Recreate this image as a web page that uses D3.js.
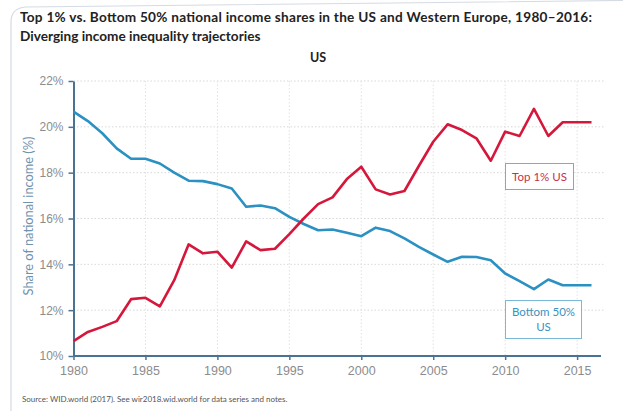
<!DOCTYPE html>
<html>
<head>
<meta charset="utf-8">
<script src="https://cdn.jsdelivr.net/npm/d3@7"></script>
<style>
  html, body { margin: 0; padding: 0; background: #fff; }
  svg { display: block; font-family: Lato, "Open Sans", sans-serif; }
</style>
</head>
<body>
<svg id="chart" width="623" height="411"></svg>
<script>
const years = d3.range(1980, 2017);
const top1US = [10.65, 11.05, 11.27, 11.52, 12.48, 12.54, 12.17, 13.31, 14.87, 14.48,
                14.55, 13.86, 15.0, 14.62, 14.68, 15.32, 16.0, 16.63, 16.92, 17.72,
                18.26, 17.27, 17.05, 17.2, 18.29, 19.35, 20.11, 19.86, 19.5, 18.52,
                19.79, 19.6, 20.78, 19.6, 20.2, 20.2, 20.2];
const bottom50US = [20.66, 20.25, 19.72, 19.06, 18.61, 18.61, 18.4, 18.0, 17.65, 17.63,
                    17.5, 17.31, 16.51, 16.57, 16.45, 16.07, 15.76, 15.49, 15.52, 15.38,
                    15.23, 15.6, 15.45, 15.13, 14.76, 14.43, 14.11, 14.33, 14.32, 14.18,
                    13.6, 13.27, 12.92, 13.34, 13.09, 13.09, 13.09];
const yTicks = [10, 12, 14, 16, 18, 20, 22];
const xTicks = [1980, 1985, 1990, 1995, 2000, 2005, 2010, 2015];
const titleLines = ["Top 1% vs. Bottom 50% national income shares in the US and Western Europe, 1980–2016:",
                    "Diverging income inequality trajectories"];
const subtitle = "US";
const yTitle = "Share of national income (%)";
const sourceText = "Source:  WID.world (2017). See wir2018.wid.world for data series and notes.";

const svg = d3.select("#chart");
const red = "#d5173c", blue = "#2b90c2", axisCol = "#4a7393";

// frame
svg.append("path")
  .attr("d", "M11,411 L11,22 Q11,8 26,7 L623,0.5")
  .attr("fill", "none").attr("stroke", "#d4dbe3").attr("stroke-width", 1.2);

const x = d3.scaleLinear().domain([1980, 2016]).range([73.5, 591.5]);
const y = d3.scaleLinear().domain([10, 22]).range([356, 81]);

// gridlines
svg.append("g").selectAll("line").data(yTicks.slice(1)).join("line")
  .attr("x1", 73.5).attr("x2", 604).attr("y1", d => y(d)).attr("y2", d => y(d))
  .attr("stroke", "#d8d8d8").attr("stroke-dasharray", "1.5,2");
svg.append("g").selectAll("line").data(xTicks.slice(1)).join("line")
  .attr("x1", d => x(d)).attr("x2", d => x(d)).attr("y1", 81).attr("y2", 356)
  .attr("stroke", "#e2e2e2").attr("stroke-dasharray", "1.5,2");

// axes
const xAxis = svg.append("g").attr("transform", "translate(0,356)")
  .call(d3.axisBottom(x).tickValues(xTicks).tickFormat(d3.format("d")).tickSize(4).tickPadding(6).tickSizeOuter(0));
xAxis.select(".domain").remove();
xAxis.append("line").attr("x1", 73.5).attr("x2", 601).attr("stroke", axisCol).attr("stroke-width", 2);
xAxis.selectAll(".tick line").attr("stroke", axisCol).attr("stroke-width", 1.5);
xAxis.selectAll(".tick text").attr("fill", "#8c8c8c").attr("font-size", 12.5).attr("font-weight", 300);

const yAxis = svg.append("g").attr("transform", "translate(73.5,0)")
  .call(d3.axisLeft(y).tickValues(yTicks).tickFormat(d => d + "%").tickSize(5).tickPadding(5).tickSizeOuter(0));
yAxis.select(".domain").attr("stroke", axisCol).attr("stroke-width", 2);
yAxis.selectAll(".tick line").attr("stroke", axisCol).attr("stroke-width", 1.5);
yAxis.selectAll(".tick text").attr("fill", "#8c8c8c").attr("font-size", 12).attr("font-weight", 300);

// lines
const line = d3.line().x((d, i) => x(years[i])).y(d => y(d));
svg.append("path").datum(bottom50US).attr("d", line)
  .attr("fill", "none").attr("stroke", blue).attr("stroke-width", 2.6).attr("stroke-linejoin", "round");
svg.append("path").datum(top1US).attr("d", line)
  .attr("fill", "none").attr("stroke", red).attr("stroke-width", 2.6).attr("stroke-linejoin", "round");

// labels
svg.append("rect").attr("x", 505.5).attr("y", 163.5).attr("width", 68).attr("height", 26)
  .attr("fill", "#fff").attr("stroke", "#e08494").attr("stroke-width", 1);
svg.append("text").attr("x", 539.5).attr("y", 180.5).attr("text-anchor", "middle")
  .attr("fill", "#c8304c").attr("font-size", 11.5).text("Top 1% US");
svg.append("rect").attr("x", 505.5).attr("y", 300.5).attr("width", 76).attr("height", 38)
  .attr("fill", "#fff").attr("stroke", "#7ab8d8").attr("stroke-width", 1);
svg.append("text").attr("x", 543.5).attr("y", 316).attr("text-anchor", "middle")
  .attr("fill", "#3a93c0").attr("font-size", 11.5).text("Bottom 50%");
svg.append("text").attr("x", 543.5).attr("y", 331).attr("text-anchor", "middle")
  .attr("fill", "#3a93c0").attr("font-size", 11.5).text("US");

// titles
svg.append("g").selectAll("text").data(titleLines).join("text")
  .attr("x", 20).attr("y", (d, i) => 22 + i * 18.5)
  .attr("font-size", 13.6).attr("font-weight", 700).attr("fill", "#222")
  .attr("textLength", (d, i) => i === 0 ? 572 : null)
  .attr("lengthAdjust", "spacing")
  .text(d => d);
svg.append("text").attr("x", 318).attr("y", 62).attr("text-anchor", "middle")
  .attr("font-size", 12.5).attr("font-weight", 700).attr("fill", "#222").text(subtitle);
svg.append("text").attr("transform", "translate(33,216) rotate(-90)")
  .attr("text-anchor", "middle").attr("font-size", 12.8).attr("fill", "#6f93ad").text(yTitle);
svg.append("text").attr("x", 22).attr("y", 402).attr("font-size", 8).attr("fill", "#555")
  .text(sourceText);
</script>
</body>
</html>
